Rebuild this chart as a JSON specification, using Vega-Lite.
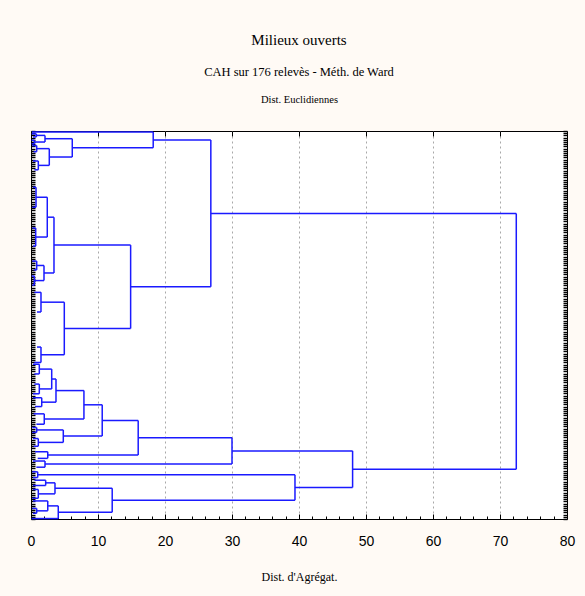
{
  "$schema": "https://vega.github.io/schema/vega-lite/v6.json",
  "width": 536,
  "height": 388,
  "autosize": {"type": "none"},
  "padding": {"left": 31, "top": 131, "right": 18, "bottom": 77},
  "background": "#fffaf5",
  "title": {
    "text": "Milieux ouverts",
    "subtitle": "CAH sur 176 relevès - Méth. de Ward",
    "font": "Liberation Serif, Times New Roman, serif",
    "fontSize": 15,
    "fontWeight": "normal",
    "color": "black",
    "subtitleFont": "Liberation Serif, Times New Roman, serif",
    "subtitleFontSize": 12.5,
    "subtitleColor": "black",
    "subtitlePadding": 18,
    "offset": 16,
    "anchor": "middle"
  },
  "config": {
    "view": {"stroke": "black", "strokeWidth": 1, "fill": "white"},
    "axis": {"tickColor": "black", "tickWidth": 1, "domain": false}
  },
  "data": {
    "values": [
      {"x": 0.15, "x2": 18.24, "y": 0.45, "y2": 0.45},
      {"x": 18.24, "x2": 18.24, "y": 0.45, "y2": 7.65},
      {"x": 6.16, "x2": 18.24, "y": 7.65, "y2": 7.65},
      {"x": 6.16, "x2": 6.16, "y": 3.5, "y2": 11.8},
      {"x": 2.09, "x2": 6.16, "y": 3.5, "y2": 3.5},
      {"x": 2.73, "x2": 6.16, "y": 11.8, "y2": 11.8},
      {"x": 2.09, "x2": 2.09, "y": 2.0, "y2": 5.0},
      {"x": 0.8, "x2": 2.09, "y": 2.0, "y2": 2.0},
      {"x": 0.8, "x2": 0.8, "y": 1.3, "y2": 2.7},
      {"x": 0.1, "x2": 0.8, "y": 1.3, "y2": 1.3},
      {"x": 0.3, "x2": 0.8, "y": 2.7, "y2": 2.7},
      {"x": 0.5, "x2": 2.09, "y": 5.0, "y2": 5.0},
      {"x": 0.5, "x2": 0.5, "y": 4.2, "y2": 5.8},
      {"x": 0.1, "x2": 0.5, "y": 4.2, "y2": 4.2},
      {"x": 0.1, "x2": 0.5, "y": 5.8, "y2": 5.8},
      {"x": 2.73, "x2": 2.73, "y": 8.0, "y2": 15.6},
      {"x": 0.85, "x2": 2.73, "y": 8.0, "y2": 8.0},
      {"x": 0.85, "x2": 0.85, "y": 6.6, "y2": 9.4},
      {"x": 0.2, "x2": 0.85, "y": 6.6, "y2": 6.6},
      {"x": 0.4, "x2": 0.85, "y": 9.4, "y2": 9.4},
      {"x": 1.09, "x2": 2.73, "y": 15.6, "y2": 15.6},
      {"x": 1.09, "x2": 1.09, "y": 13.6, "y2": 17.6},
      {"x": 0.3, "x2": 1.09, "y": 13.6, "y2": 13.6},
      {"x": 0.5, "x2": 1.09, "y": 17.6, "y2": 17.6},
      {"x": 18.24, "x2": 26.84, "y": 4.05, "y2": 4.05},
      {"x": 26.84, "x2": 26.84, "y": 4.05, "y2": 70.7},
      {"x": 26.84, "x2": 72.43, "y": 37.4, "y2": 37.4},
      {"x": 14.87, "x2": 26.84, "y": 70.7, "y2": 70.7},
      {"x": 14.87, "x2": 14.87, "y": 51.75, "y2": 89.6},
      {"x": 3.43, "x2": 14.87, "y": 51.75, "y2": 51.75},
      {"x": 4.97, "x2": 14.87, "y": 89.6, "y2": 89.6},
      {"x": 3.43, "x2": 3.43, "y": 39.1, "y2": 64.4},
      {"x": 2.43, "x2": 3.43, "y": 39.1, "y2": 39.1},
      {"x": 1.94, "x2": 3.43, "y": 64.4, "y2": 64.4},
      {"x": 2.43, "x2": 2.43, "y": 30.05, "y2": 48.1},
      {"x": 0.75, "x2": 2.43, "y": 30.05, "y2": 30.05},
      {"x": 0.7, "x2": 2.43, "y": 48.1, "y2": 48.1},
      {"x": 0.75, "x2": 0.75, "y": 25.5, "y2": 34.6},
      {"x": 0.3, "x2": 0.75, "y": 25.5, "y2": 25.5},
      {"x": 0.2, "x2": 0.75, "y": 34.6, "y2": 34.6},
      {"x": 0.7, "x2": 0.7, "y": 44.0, "y2": 52.2},
      {"x": 0.2, "x2": 0.7, "y": 44.0, "y2": 44.0},
      {"x": 0.3, "x2": 0.7, "y": 52.2, "y2": 52.2},
      {"x": 1.94, "x2": 1.94, "y": 61.0, "y2": 67.85},
      {"x": 0.85, "x2": 1.94, "y": 61.0, "y2": 61.0},
      {"x": 0.85, "x2": 0.85, "y": 59.0, "y2": 63.0},
      {"x": 0.2, "x2": 0.85, "y": 59.0, "y2": 59.0},
      {"x": 0.4, "x2": 0.85, "y": 63.0, "y2": 63.0},
      {"x": 0.5, "x2": 1.94, "y": 67.85, "y2": 67.85},
      {"x": 0.5, "x2": 0.5, "y": 65.8, "y2": 69.9},
      {"x": 0.1, "x2": 0.5, "y": 65.8, "y2": 65.8},
      {"x": 0.2, "x2": 0.5, "y": 69.9, "y2": 69.9},
      {"x": 4.97, "x2": 4.97, "y": 77.65, "y2": 101.5},
      {"x": 1.49, "x2": 4.97, "y": 77.65, "y2": 77.65},
      {"x": 1.49, "x2": 1.49, "y": 73.2, "y2": 82.1},
      {"x": 0.5, "x2": 1.49, "y": 73.2, "y2": 73.2},
      {"x": 0.9, "x2": 1.49, "y": 82.1, "y2": 82.1},
      {"x": 1.49, "x2": 4.97, "y": 101.5, "y2": 101.5},
      {"x": 1.49, "x2": 1.49, "y": 98.0, "y2": 105.0},
      {"x": 0.9, "x2": 1.49, "y": 98.0, "y2": 98.0},
      {"x": 0.5, "x2": 1.49, "y": 105.0, "y2": 105.0},
      {"x": 72.43, "x2": 72.43, "y": 37.4, "y2": 153.4},
      {"x": 48.0, "x2": 72.43, "y": 153.4, "y2": 153.4},
      {"x": 48.0, "x2": 48.0, "y": 145.1, "y2": 161.7},
      {"x": 30.0, "x2": 48.0, "y": 145.1, "y2": 145.1},
      {"x": 39.4, "x2": 48.0, "y": 161.7, "y2": 161.7},
      {"x": 30.0, "x2": 30.0, "y": 139.15, "y2": 151.1},
      {"x": 16.0, "x2": 30.0, "y": 139.15, "y2": 139.15},
      {"x": 2.09, "x2": 30.0, "y": 151.1, "y2": 151.1},
      {"x": 2.09, "x2": 2.09, "y": 149.7, "y2": 152.5},
      {"x": 0.3, "x2": 2.09, "y": 149.7, "y2": 149.7},
      {"x": 0.8, "x2": 2.09, "y": 152.5, "y2": 152.5},
      {"x": 16.0, "x2": 16.0, "y": 131.3, "y2": 147.0},
      {"x": 10.63, "x2": 16.0, "y": 131.3, "y2": 131.3},
      {"x": 2.5, "x2": 16.0, "y": 147.0, "y2": 147.0},
      {"x": 2.5, "x2": 2.5, "y": 145.5, "y2": 148.5},
      {"x": 0.6, "x2": 2.5, "y": 145.5, "y2": 145.5},
      {"x": 1.0, "x2": 2.5, "y": 148.5, "y2": 148.5},
      {"x": 10.63, "x2": 10.63, "y": 124.2, "y2": 138.4},
      {"x": 7.9, "x2": 10.63, "y": 124.2, "y2": 124.2},
      {"x": 4.82, "x2": 10.63, "y": 138.4, "y2": 138.4},
      {"x": 7.9, "x2": 7.9, "y": 117.75, "y2": 130.65},
      {"x": 3.73, "x2": 7.9, "y": 117.75, "y2": 117.75},
      {"x": 1.98, "x2": 7.9, "y": 130.65, "y2": 130.65},
      {"x": 1.98, "x2": 1.98, "y": 128.3, "y2": 133.0},
      {"x": 0.4, "x2": 1.98, "y": 128.3, "y2": 128.3},
      {"x": 0.8, "x2": 1.98, "y": 133.0, "y2": 133.0},
      {"x": 3.73, "x2": 3.73, "y": 112.5, "y2": 123.0},
      {"x": 3.09, "x2": 3.73, "y": 112.5, "y2": 112.5},
      {"x": 1.6, "x2": 3.73, "y": 123.0, "y2": 123.0},
      {"x": 1.6, "x2": 1.6, "y": 121.0, "y2": 125.0},
      {"x": 0.3, "x2": 1.6, "y": 121.0, "y2": 121.0},
      {"x": 0.6, "x2": 1.6, "y": 125.0, "y2": 125.0},
      {"x": 3.09, "x2": 3.09, "y": 108.0, "y2": 117.0},
      {"x": 1.24, "x2": 3.09, "y": 108.0, "y2": 108.0},
      {"x": 1.24, "x2": 1.24, "y": 105.8, "y2": 110.2},
      {"x": 0.3, "x2": 1.24, "y": 105.8, "y2": 105.8},
      {"x": 0.5, "x2": 1.24, "y": 110.2, "y2": 110.2},
      {"x": 1.24, "x2": 3.09, "y": 117.0, "y2": 117.0},
      {"x": 1.24, "x2": 1.24, "y": 114.8, "y2": 119.2},
      {"x": 0.5, "x2": 1.24, "y": 114.8, "y2": 114.8},
      {"x": 0.3, "x2": 1.24, "y": 119.2, "y2": 119.2},
      {"x": 4.82, "x2": 4.82, "y": 135.6, "y2": 141.25},
      {"x": 0.85, "x2": 4.82, "y": 135.6, "y2": 135.6},
      {"x": 0.85, "x2": 0.85, "y": 134.5, "y2": 136.7},
      {"x": 0.2, "x2": 0.85, "y": 134.5, "y2": 134.5},
      {"x": 0.2, "x2": 0.85, "y": 136.7, "y2": 136.7},
      {"x": 1.09, "x2": 4.82, "y": 141.25, "y2": 141.25},
      {"x": 1.09, "x2": 1.09, "y": 139.5, "y2": 143.0},
      {"x": 0.3, "x2": 1.09, "y": 139.5, "y2": 139.5},
      {"x": 0.4, "x2": 1.09, "y": 143.0, "y2": 143.0},
      {"x": 39.4, "x2": 39.4, "y": 155.9, "y2": 167.5},
      {"x": 1.0, "x2": 39.4, "y": 155.9, "y2": 155.9},
      {"x": 1.0, "x2": 1.0, "y": 154.6, "y2": 157.2},
      {"x": 0.2, "x2": 1.0, "y": 154.6, "y2": 154.6},
      {"x": 0.3, "x2": 1.0, "y": 157.2, "y2": 157.2},
      {"x": 12.12, "x2": 39.4, "y": 167.5, "y2": 167.5},
      {"x": 12.12, "x2": 12.12, "y": 162.1, "y2": 172.9},
      {"x": 3.58, "x2": 12.12, "y": 162.1, "y2": 162.1},
      {"x": 4.07, "x2": 12.12, "y": 172.9, "y2": 172.9},
      {"x": 3.58, "x2": 3.58, "y": 159.6, "y2": 164.6},
      {"x": 2.19, "x2": 3.58, "y": 159.6, "y2": 159.6},
      {"x": 2.19, "x2": 2.19, "y": 158.4, "y2": 160.8},
      {"x": 0.5, "x2": 2.19, "y": 158.4, "y2": 158.4},
      {"x": 0.3, "x2": 2.19, "y": 160.8, "y2": 160.8},
      {"x": 1.09, "x2": 3.58, "y": 164.6, "y2": 164.6},
      {"x": 1.09, "x2": 1.09, "y": 162.6, "y2": 166.6},
      {"x": 0.3, "x2": 1.09, "y": 162.6, "y2": 162.6},
      {"x": 0.2, "x2": 1.09, "y": 166.6, "y2": 166.6},
      {"x": 4.07, "x2": 4.07, "y": 170.05, "y2": 175.8},
      {"x": 2.5, "x2": 4.07, "y": 170.05, "y2": 170.05},
      {"x": 0.1, "x2": 4.07, "y": 175.8, "y2": 175.8},
      {"x": 2.5, "x2": 2.5, "y": 167.8, "y2": 172.3},
      {"x": 0.3, "x2": 2.5, "y": 167.8, "y2": 167.8},
      {"x": 0.85, "x2": 2.5, "y": 172.3, "y2": 172.3},
      {"x": 0.85, "x2": 0.85, "y": 171.2, "y2": 173.4},
      {"x": 0.2, "x2": 0.85, "y": 171.2, "y2": 171.2},
      {"x": 0.3, "x2": 0.85, "y": 173.4, "y2": 173.4}
    ]
  },
  "layer": [
    {
      "mark": {"type": "rule", "color": "#1a1aff", "strokeWidth": 1.5},
      "encoding": {
        "x": {
          "field": "x", "type": "quantitative",
          "scale": {"domain": [0, 80], "nice": false, "zero": false},
          "axis": {
            "orient": "bottom",
            "values": [0, 10, 20, 30, 40, 50, 60, 70, 80],
            "ticks": false, "grid": false, "domain": false,
            "labelFont": "Liberation Sans Narrow, Liberation Sans",
            "labelFontSize": 14, "labelColor": "black",
            "labelPadding": 15, "labelFlush": false, "labelOverlap": false,
            "format": "d",
            "title": "Dist. d'Agrégat.",
            "titleFont": "Liberation Serif, Times New Roman, serif", "titleFontSize": 12,
            "titleFontWeight": "normal", "titleColor": "black",
            "titlePadding": 23
          }
        },
        "x2": {"field": "x2"},
        "y": {
          "field": "y", "type": "quantitative",
          "scale": {"domain": [0, 176], "reverse": true, "nice": false, "zero": false},
          "axis": {
            "orient": "left", "tickCount": 176, "labels": false,
            "ticks": true, "tickSize": -4, "tickWidth": 1.4, "grid": false, "domain": false,
            "title": null
          }
        },
        "y2": {"field": "y2"}
      }
    },
    {
      "transform": [{"filter": "false"}],
      "mark": {"type": "rule"},
      "encoding": {
        "x": {
          "field": "x", "type": "quantitative",
          "scale": {"domain": [0, 80], "nice": false, "zero": false},
          "axis": {
            "orient": "top",
            "values": [10, 20, 30, 40, 50, 60, 70],
            "labels": false, "tickSize": -5, "domain": false,
            "grid": true, "gridDash": [2, 3], "gridColor": "#a8a8a8", "gridWidth": 1,
            "title": "Dist. Euclidiennes",
            "titleFont": "Liberation Serif, Times New Roman, serif", "titleFontSize": 10.5,
            "titleFontWeight": "normal", "titleColor": "black",
            "titlePadding": 26
          }
        },
        "x2": {"field": "x2"},
        "y": {
          "field": "y", "type": "quantitative",
          "scale": {"domain": [0, 176], "reverse": true, "nice": false, "zero": false},
          "axis": {
            "orient": "right", "tickCount": 176, "labels": false,
            "tickSize": -4, "tickWidth": 1.4, "grid": false, "domain": false, "title": null
          }
        },
        "y2": {"field": "y2"}
      }
    },
    {
      "transform": [{"filter": "false"}],
      "mark": {"type": "rule"},
      "encoding": {
        "x": {
          "field": "x", "type": "quantitative",
          "scale": {"domain": [0, 80], "nice": false, "zero": false},
          "axis": {
            "orient": "bottom",
            "values": [2, 4, 6, 8, 12, 14, 16, 18, 22, 24, 26, 28, 32, 34, 36, 38, 42, 44, 46, 48, 52, 54, 56, 58, 62, 64, 66, 68, 72, 74, 76, 78],
            "labels": false, "tickSize": -3, "grid": false, "domain": false, "title": null
          }
        },
        "x2": {"field": "x2"},
        "y": {
          "field": "y", "type": "quantitative",
          "scale": {"domain": [0, 176], "reverse": true, "nice": false, "zero": false},
          "axis": null
        },
        "y2": {"field": "y2"}
      }
    },
    {
      "transform": [{"filter": "false"}],
      "mark": {"type": "rule"},
      "encoding": {
        "x": {
          "field": "x", "type": "quantitative",
          "scale": {"domain": [0, 80], "nice": false, "zero": false},
          "axis": {
            "orient": "bottom",
            "values": [10, 20, 30, 40, 50, 60, 70],
            "labels": false, "tickSize": -5, "grid": false, "domain": false, "title": null
          }
        },
        "x2": {"field": "x2"},
        "y": {
          "field": "y", "type": "quantitative",
          "scale": {"domain": [0, 176], "reverse": true, "nice": false, "zero": false},
          "axis": null
        },
        "y2": {"field": "y2"}
      }
    }
  ],
  "resolve": {"axis": {"x": "independent", "y": "independent"}}
}
